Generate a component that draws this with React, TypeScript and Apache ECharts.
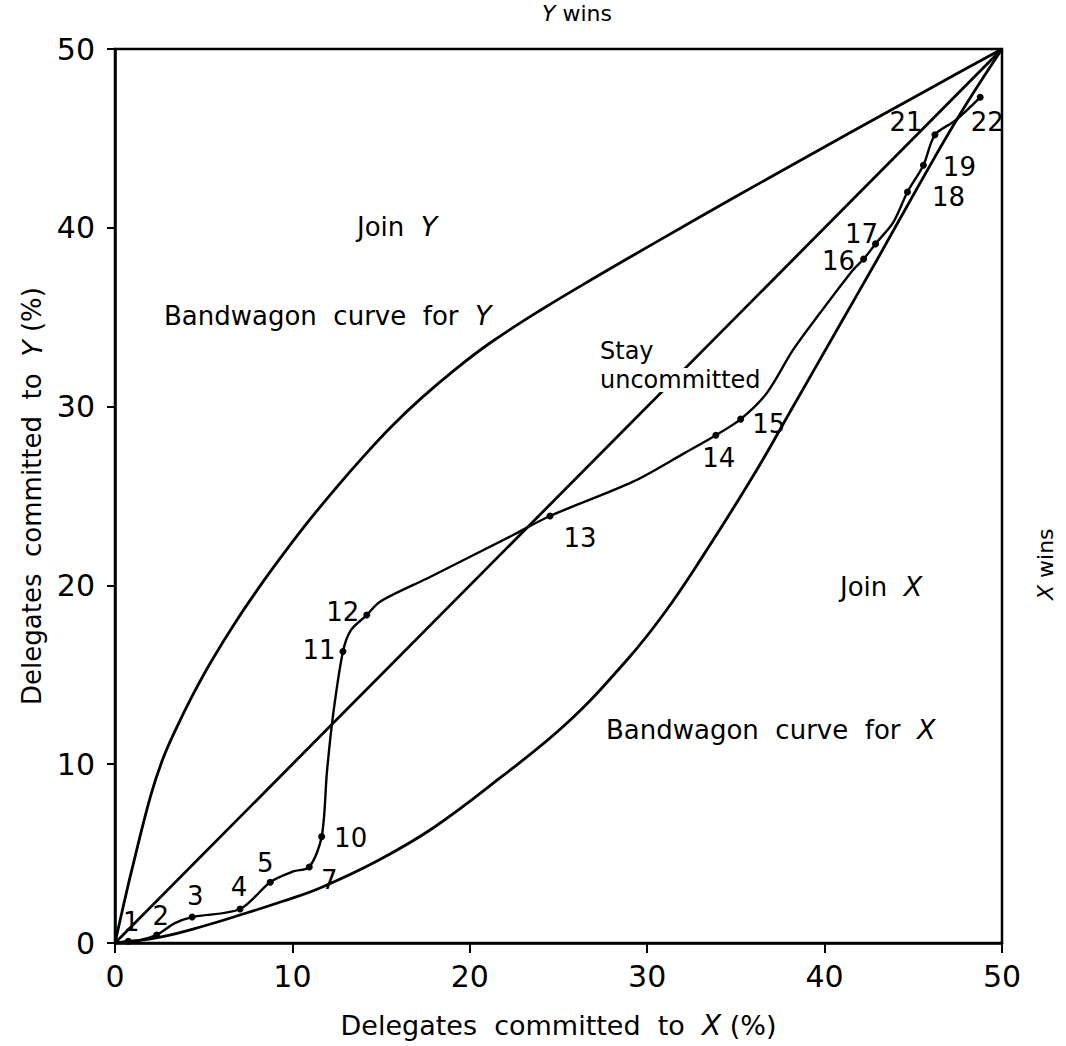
import React, { useEffect, useRef } from "react";
import * as echarts from "echarts";

const FONT = "DejaVu Sans";

// Axis ticks
const xTickMin = 0;
const xTickMax = 50;
const yTickMin = 0;
const yTickMax = 50;
const tickStep = 10;

// "Stay uncommitted" diagonal
const diagonal = [
  [0, 0],
  [50, 50],
];

// Bandwagon curve for Y (upper curve)
const bandwagonY = [
  [0, 0], [0.5, 2.2], [1.0, 4.3], [2.0, 8.2], [2.7, 10.3], [3.5, 12.1],
  [4.4, 13.9], [5.4, 15.7], [6.7, 17.8], [8.2, 20.0], [9.6, 21.9], [11.0, 23.7],
  [12.5, 25.5], [14.0, 27.2], [15.6, 28.9], [17.3, 30.5], [19.2, 32.1],
  [21.2, 33.6], [24.0, 35.4], [27.2, 37.3], [30.5, 39.2], [35.0, 41.75],
  [41.4, 45.3], [46.1, 47.88], [50, 50],
];

// Bandwagon curve for X (lower curve)
const bandwagonX = [
  [0, 0], [2.54, 0.33], [5.0, 0.95], [7.22, 1.62], [9.5, 2.35], [11.56, 3.08],
  [14.8, 4.6], [17.93, 6.43], [21.7, 9.23], [25.48, 12.3], [28.92, 15.9],
  [31.0, 18.5], [32.98, 21.4], [35.96, 26.1], [38.05, 29.7], [40.7, 34.3],
  [42.95, 38.2], [45.38, 42.5], [47.6, 46.3], [50, 50],
];

// Observed trajectory: [x, y, stage label ("" = path point only)]
const trajectory: [number, number, string][] = [
  [0.0, 0.0, ""],
  [0.75, 0.1, "1"],
  [1.35, 0.15, ""],
  [2.35, 0.45, "2"],
  [3.35, 1.1, ""],
  [4.35, 1.45, "3"],
  [7.05, 1.9, "4"],
  [8.75, 3.4, "5"],
  [10.05, 4.0, ""],
  [10.95, 4.25, "7"],
  [11.65, 5.95, "10"],
  [11.95, 9.6, ""],
  [12.3, 12.8, ""],
  [12.85, 16.3, "11"],
  [13.3, 17.5, ""],
  [14.19, 18.34, "12"],
  [14.94, 19.09, ""],
  [17.76, 20.47, ""],
  [22.44, 22.82, ""],
  [24.52, 23.88, "13"],
  [29.2, 25.8, ""],
  [32.1, 27.4, ""],
  [33.87, 28.4, "14"],
  [35.27, 29.3, "15"],
  [36.73, 30.74, ""],
  [38.22, 33.17, ""],
  [39.74, 35.23, ""],
  [41.6, 37.64, ""],
  [42.2, 38.25, "16"],
  [42.87, 39.1, "17"],
  [43.87, 40.3, ""],
  [44.67, 42.0, "18"],
  [45.57, 43.5, "19"],
  [46.22, 45.2, "21"],
  [47.37, 46.0, ""],
  [48.77, 47.3, "22"],
];

// label offsets (styling only)
const labelOffsets: Record<string, [number, number]> = {
  "1": [3, -19],
  "2": [4, -19],
  "3": [3, -21],
  "4": [-1, -22],
  "5": [-5, -19],
  "7": [20, 13],
  "10": [29, 1],
  "11": [-24, -2],
  "12": [-24, -3],
  "13": [30, 22],
  "14": [3, 23],
  "15": [28, 5],
  "16": [-25, 2],
  "17": [-14, -10],
  "18": [41, 5],
  "19": [36, 2],
  "21": [-29, -13],
  "22": [7, 25],
};

export default function App() {
  const ref = useRef<HTMLDivElement>(null);

  useEffect(() => {
    if (!ref.current) return;
    const chart = echarts.init(ref.current, null, { renderer: "svg" });

    const lineStyle = (w: number) => ({ color: "#000", width: w });
    const stagePoints = trajectory
      .filter((p) => p[2] !== "")
      .map((p) => ({
        value: [p[0], p[1]],
        name: p[2],
        label: { offset: labelOffsets[p[2]] || [0, 0] },
      }));

    const textBase = { fill: "#000", fontFamily: FONT, fontSize: 26 };
    const italic = { i: { fontStyle: "italic", fontSize: 27, fontFamily: FONT, fill: "#000", color: "#000" } };

    chart.setOption({
      animation: false,
      backgroundColor: "#fff",
      textStyle: { fontFamily: FONT, color: "#000" },
      grid: {
        left: 115,
        right: 64,
        top: 49,
        bottom: 103,
        show: true,
        borderColor: "#000",
        borderWidth: 2.5,
        containLabel: false,
      },
      xAxis: {
        type: "value",
        min: xTickMin,
        max: xTickMax,
        interval: tickStep,
        axisLine: { show: true, lineStyle: lineStyle(2.5) },
        axisTick: { show: true, inside: false, length: 10, lineStyle: lineStyle(2) },
        axisLabel: { color: "#000", fontSize: 30, fontFamily: FONT, margin: 18 },
        splitLine: { show: false },
        name: "Delegates  committed  to  {i|X} (%)",
        nameLocation: "middle",
        nameGap: 68,
        nameTextStyle: {
          color: "#000",
          fontSize: 27,
          fontFamily: FONT,
          rich: { i: { fontStyle: "italic", fontSize: 28, fontFamily: FONT, color: "#000" } },
        },
      },
      yAxis: {
        type: "value",
        min: yTickMin,
        max: yTickMax,
        interval: tickStep,
        axisLine: { show: true, lineStyle: lineStyle(2.5) },
        axisTick: { show: true, inside: false, length: 8, lineStyle: lineStyle(2) },
        axisLabel: { color: "#000", fontSize: 30, fontFamily: FONT, margin: 20 },
        splitLine: { show: false },
        name: "Delegates  committed  to  {i|Y} (%)",
        nameLocation: "middle",
        nameGap: 66,
        nameRotate: 90,
        nameTextStyle: {
          color: "#000",
          fontSize: 26,
          fontFamily: FONT,
          rich: { i: { fontStyle: "italic", fontSize: 27, fontFamily: FONT, color: "#000" } },
        },
      },
      series: [
        {
          name: "Stay uncommitted",
          type: "line",
          data: diagonal,
          symbol: "none",
          lineStyle: lineStyle(2.8),
          z: 2,
        },
        {
          name: "Bandwagon curve for Y",
          type: "line",
          data: bandwagonY,
          smooth: 0.4,
          symbol: "none",
          lineStyle: lineStyle(2.8),
          z: 2,
        },
        {
          name: "Bandwagon curve for X",
          type: "line",
          data: bandwagonX,
          smooth: 0.4,
          symbol: "none",
          lineStyle: lineStyle(2.8),
          z: 2,
        },
        {
          name: "Trajectory",
          type: "line",
          data: trajectory.map((p) => [p[0], p[1]]),
          smooth: 0.3,
          symbol: "none",
          lineStyle: lineStyle(2.4),
          z: 3,
        },
        {
          name: "Stages",
          type: "scatter",
          data: stagePoints,
          symbol: "circle",
          symbolSize: 7,
          itemStyle: { color: "#000", opacity: 1 },
          label: {
            show: true,
            position: "inside",
            formatter: "{b}",
            color: "#000",
            opacity: 1,
            textBorderWidth: 0,
            fontSize: 26,
            fontFamily: FONT,
          },
          z: 4,
        },
      ],
      graphic: [
        {
          type: "text",
          left: 542,
          top: 2,
          z: 100,
          style: {
            ...textBase,
            fontSize: 22,
            text: "{i|Y} wins",
            rich: { i: { fontStyle: "italic", fontSize: 22, fontFamily: FONT } },
          },
        },
        {
          type: "text",
          x: 1034,
          y: 600,
          rotation: Math.PI / 2,
          z: 100,
          style: {
            ...textBase,
            fontSize: 22,
            text: "{i|X} wins",
            rich: { i: { fontStyle: "italic", fontSize: 22, fontFamily: FONT } },
          },
        },
        {
          type: "text",
          x: 357,
          y: 213,
          z: 100,
          style: { ...textBase, text: "Join  {i|Y}", rich: italic },
        },
        {
          type: "text",
          x: 164,
          y: 302,
          z: 100,
          style: { ...textBase, text: "Bandwagon  curve  for  {i|Y}", rich: italic },
        },
        {
          type: "text",
          x: 598,
          y: 339,
          z: 100,
          style: {
            ...textBase,
            fontSize: 24,
            text: "Stay",
            backgroundColor: "#fff",
            padding: [0, 2, 0, 2],
          },
        },
        {
          type: "text",
          x: 598,
          y: 368,
          z: 100,
          style: {
            ...textBase,
            fontSize: 24,
            text: "uncommitted",
            backgroundColor: "#fff",
            padding: [0, 4, 0, 2],
          },
        },
        {
          type: "text",
          x: 840,
          y: 573,
          z: 100,
          style: { ...textBase, text: "Join  {i|X}", rich: italic },
        },
        {
          type: "text",
          x: 606,
          y: 716,
          z: 100,
          style: { ...textBase, text: "Bandwagon  curve  for  {i|X}", rich: italic },
        },
      ],
    });

    return () => chart.dispose();
  }, []);

  return (
    <div
      ref={ref}
      style={{ position: "absolute", left: 0, top: 0, width: 1066, height: 1046, background: "#fff" }}
    />
  );
}
